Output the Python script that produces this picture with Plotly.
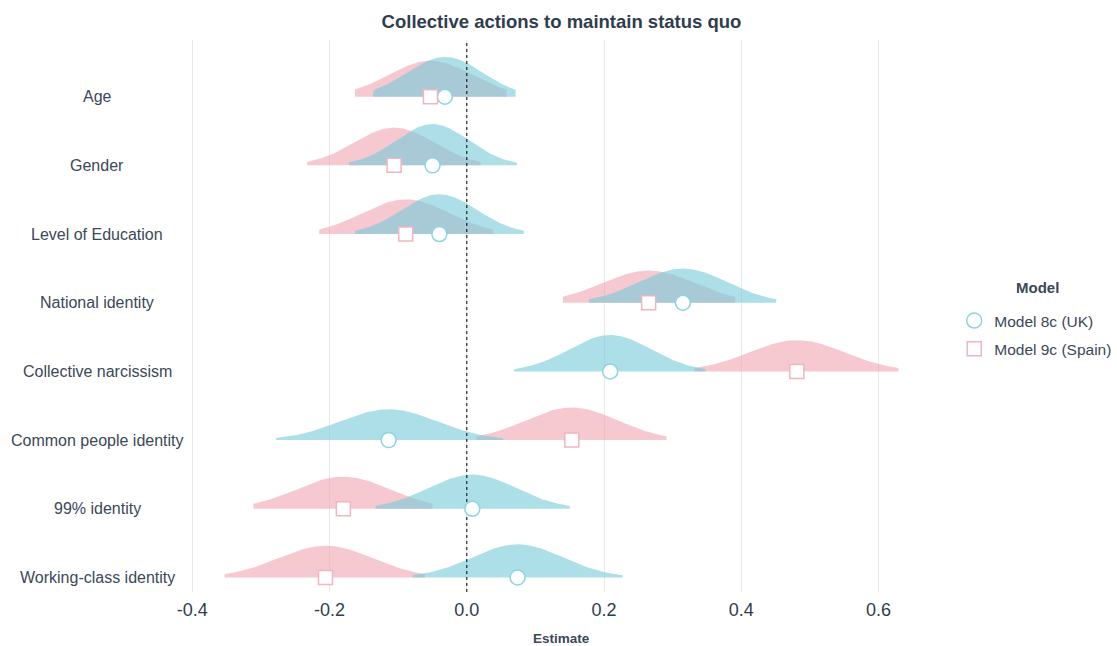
import numpy as np
import plotly.graph_objects as go

# Predictors, listed top to bottom
predictors = [
    "Age",
    "Gender",
    "Level of Education",
    "National identity",
    "Collective narcissism",
    "Common people identity",
    "99% identity",
    "Working-class identity",
]

# Model 8c (UK)
uk_est = [-0.032, -0.050, -0.040, 0.315, 0.209, -0.114, 0.008, 0.074]
uk_se = [0.055, 0.053, 0.055, 0.064, 0.060, 0.071, 0.064, 0.066]
uk_lo = [-0.137, -0.172, -0.163, 0.178, 0.069, -0.278, -0.133, -0.079]
uk_hi = [0.071, 0.073, 0.083, 0.451, 0.348, 0.053, 0.150, 0.227]

# Model 9c (Spain)
es_est = [-0.053, -0.106, -0.089, 0.265, 0.481, 0.153, -0.180, -0.206]
es_se = [0.061, 0.058, 0.063, 0.068, 0.070, 0.067, 0.068, 0.069]
es_lo = [-0.163, -0.233, -0.215, 0.140, 0.332, 0.014, -0.311, -0.353]
es_hi = [0.058, 0.020, 0.038, 0.391, 0.629, 0.291, -0.050, -0.061]

x_ticks = [-0.4, -0.2, 0.0, 0.2, 0.4, 0.6]
x_ticklabels = ["-0.4", "-0.2", "0.0", "0.2", "0.4", "0.6"]

model_names = ["Model 8c (UK)", "Model 9c (Spain)"]

# Styling
FONT = "Liberation Sans, Arial, sans-serif"
TEAL_FILL = "rgba(117,202,217,0.6)"
PINK_FILL = "rgba(240,165,178,0.6)"
TEAL_LINE = "rgb(140,212,226)"
PINK_LINE = "rgb(240,182,192)"
TEXT = "#3b4858"
DARK = "#2f3d4f"
DENS_SCALE = 0.0799  # row units per unit of density

W, H = 1117, 646
M_L, M_R, M_T, M_B = 191, 185, 40, 54
plot_w = W - M_L - M_R
plot_h = H - M_T - M_B

n = len(predictors)
row_pos = [n - i for i in range(n)]  # Age on top

fig = go.Figure()


def add_curves(est, se, lo, hi, fill):
    for k in range(n):
        xs = np.linspace(lo[k], hi[k], 200)
        dens = np.exp(-0.5 * ((xs - est[k]) / se[k]) ** 2) / (se[k] * np.sqrt(2 * np.pi))
        ys = row_pos[k] + dens * DENS_SCALE
        px = np.concatenate([[lo[k]], xs, [hi[k]]])
        py = np.concatenate([[row_pos[k]], ys, [row_pos[k]]])
        fig.add_trace(go.Scatter(
            x=px, y=py, mode="lines", fill="toself", fillcolor=fill,
            line=dict(width=0), hoverinfo="skip", showlegend=False,
        ))


# Spain drawn first, UK layered over it
add_curves(es_est, es_se, es_lo, es_hi, PINK_FILL)
add_curves(uk_est, uk_se, uk_lo, uk_hi, TEAL_FILL)

y_lo, y_hi = 0.789, 8.825

# Reference line at zero
fig.add_trace(go.Scatter(
    x=[0, 0], y=[y_lo, y_hi], mode="lines",
    line=dict(color="black", width=1, dash="3px,3px"),
    hoverinfo="skip", showlegend=False,
))

# Point estimates
fig.add_trace(go.Scatter(
    x=uk_est, y=row_pos, mode="markers", name=model_names[0],
    legendgroup="uk",
    marker=dict(symbol="circle", size=15, color="white",
                line=dict(color=TEAL_LINE, width=1.5)),
))
fig.add_trace(go.Scatter(
    x=es_est, y=row_pos, mode="markers", name=model_names[1],
    legendgroup="es",
    marker=dict(symbol="square", size=14, color="white",
                line=dict(color=PINK_LINE, width=1.5)),
))

# Predictor labels, centred in the left margin
for k, lab in enumerate(predictors):
    fig.add_annotation(
        x=(97 - M_L) / plot_w, xref="paper", y=row_pos[k], yref="y",
        text=lab, showarrow=False, xanchor="center", yanchor="middle",
        font=dict(family=FONT, size=16, color=TEXT),
    )

fig.add_annotation(
    x=0.5, xref="paper", y=(H - M_B - 638) / plot_h, yref="paper",
    text="<b>Estimate</b>", showarrow=False, xanchor="center", yanchor="middle",
    font=dict(family=FONT, size=13.5, color=TEXT),
)

# Legend heading
fig.add_annotation(
    x=(1037 - M_L) / plot_w, xref="paper", y=(H - M_B - 287) / plot_h, yref="paper",
    text="<b>Model</b>", showarrow=False, xanchor="center", yanchor="middle",
    font=dict(family=FONT, size=15, color=TEXT),
)

fig.update_layout(
    width=W, height=H,
    margin=dict(l=M_L, r=M_R, t=M_T, b=M_B, autoexpand=False),
    paper_bgcolor="white", plot_bgcolor="white",
    title=dict(
        text="<b>Collective actions to maintain status quo</b>",
        x=0.5, xref="paper", xanchor="center", y=0.967, yanchor="middle",
        font=dict(family=FONT, size=18.5, color=DARK),
    ),
    xaxis=dict(
        range=[-0.402, 0.678], tickvals=x_ticks, ticktext=x_ticklabels,
        showgrid=True, gridcolor="#e8e8e8", gridwidth=1, zeroline=False,
        showline=False, ticks="", ticklabelstandoff=5,
        tickfont=dict(family=FONT, size=18, color=DARK),
    ),
    yaxis=dict(
        range=[y_lo, y_hi], showgrid=False, zeroline=False, showline=False,
        showticklabels=False, ticks="",
    ),
    legend=dict(
        x=1.03, xanchor="left", y=0.5217, yanchor="top",
        font=dict(family=FONT, size=15.5, color=TEXT),
        tracegroupgap=5, traceorder="grouped", bgcolor="rgba(0,0,0,0)",
    ),
)

fig.write_html("out.html")
